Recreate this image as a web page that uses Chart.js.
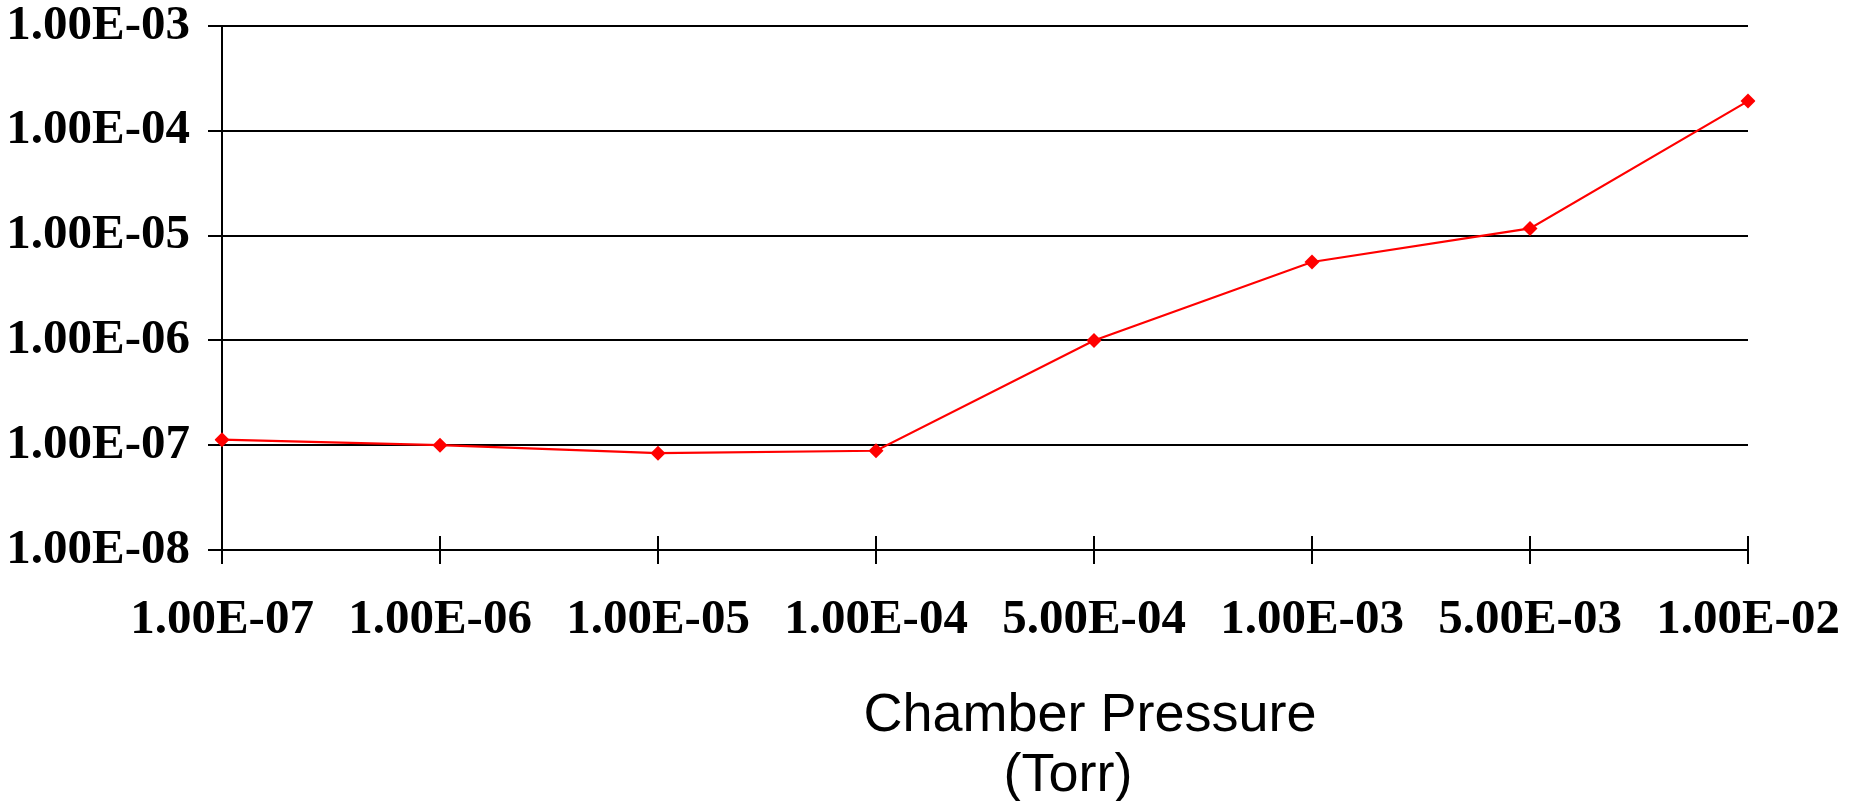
<!DOCTYPE html>
<html>
<head>
<meta charset="utf-8">
<title>Chamber Pressure</title>
<script src="https://cdn.jsdelivr.net/npm/chart.js@4.4.0/dist/chart.umd.js"></script>
<style>
    html, body { margin: 0; padding: 0; background: #ffffff; }
    #wrap { width: 1858px; height: 801px; position: relative; }
</style>
</head>
<body>
<div id="wrap"><canvas id="pressureChart"></canvas></div>
<script>
// Chart data
const pressureLabels = ['1.00E-07', '1.00E-06', '1.00E-05', '1.00E-04', '5.00E-04', '1.00E-03', '5.00E-03', '1.00E-02'];
const seriesValues = [1.13e-7, 1.0e-7, 8.4e-8, 8.85e-8, 1.0e-6, 5.6e-6, 1.17e-5, 1.92e-4];
const yTickValues = [1e-8, 1e-7, 1e-6, 1e-5, 1e-4, 1e-3];
const yTickLabels = ['1.00E-08', '1.00E-07', '1.00E-06', '1.00E-05', '1.00E-04', '1.00E-03'];
const axisTitleLines = ['Chamber Pressure', '(Torr)'];

const tickFont = { family: "'Liberation Serif', 'Times New Roman', serif", size: 49, weight: 'bold' };

// Ticks that cross the x axis, plus the two-line axis title
const axisExtras = {
    id: 'axisExtras',
    afterDraw(chart) {
        const ctx = chart.ctx;
        const area = chart.chartArea;
        const xScale = chart.scales.x;
        ctx.save();
        ctx.strokeStyle = '#000000';
        ctx.lineWidth = 2;
        ctx.beginPath();
        for (let i = 0; i < xScale.ticks.length; i++) {
            const px = xScale.getPixelForTick(i);
            ctx.moveTo(px, area.bottom - 14);
            ctx.lineTo(px, area.bottom);
        }
        ctx.stroke();

        ctx.fillStyle = '#000000';
        ctx.font = "54px 'Liberation Sans', Arial, sans-serif";
        ctx.textAlign = 'center';
        ctx.textBaseline = 'alphabetic';
        ctx.fillText(axisTitleLines[0], area.left + 868, area.bottom + 181);
        ctx.fillText(axisTitleLines[1], area.left + 846, area.bottom + 241);
        ctx.restore();
    }
};

new Chart(document.getElementById('pressureChart'), {
    type: 'line',
    data: {
        labels: pressureLabels,
        datasets: [{
            label: 'Measured',
            data: seriesValues,
            borderColor: '#ff0000',
            backgroundColor: '#ff0000',
            borderWidth: 2.2,
            tension: 0,
            pointStyle: 'rectRot',
            pointRadius: 7.5,
            pointBorderWidth: 0,
            pointBackgroundColor: '#ff0000'
        }]
    },
    options: {
        responsive: true,
        maintainAspectRatio: false,
        animation: false,
        layout: {
            padding: { left: 0, right: 110, top: 26, bottom: 0 }
        },
        plugins: {
            legend: { display: false },
            tooltip: { enabled: false }
        },
        scales: {
            x: {
                type: 'category',
                offset: false,
                afterFit: function(scale) {
                    scale.height = 251;
                    scale.paddingLeft = 0;
                    scale.paddingRight = 0;
                },
                grid: {
                    drawOnChartArea: false,
                    drawTicks: true,
                    tickLength: 14,
                    color: '#000000',
                    lineWidth: 2
                },
                border: { display: true, color: '#000000', width: 2 },
                ticks: {
                    color: '#000000',
                    font: tickFont,
                    padding: 27,
                    maxRotation: 0,
                    autoSkip: false
                }
            },
            y: {
                type: 'logarithmic',
                min: 1e-8,
                max: 1e-3,
                afterBuildTicks: function(scale) {
                    scale.ticks = yTickValues.map(v => ({ value: v }));
                },
                afterFit: function(scale) {
                    scale.width = 222;
                    scale.paddingTop = 0;
                    scale.paddingBottom = 0;
                },
                grid: {
                    drawTicks: true,
                    tickLength: 14,
                    color: '#000000',
                    lineWidth: 2
                },
                border: { display: true, color: '#000000', width: 2 },
                ticks: {
                    color: '#000000',
                    font: tickFont,
                    padding: 18,
                    callback: function(value, index) {
                        return yTickLabels[index];
                    }
                }
            }
        }
    },
    plugins: [axisExtras]
});
</script>
</body>
</html>
